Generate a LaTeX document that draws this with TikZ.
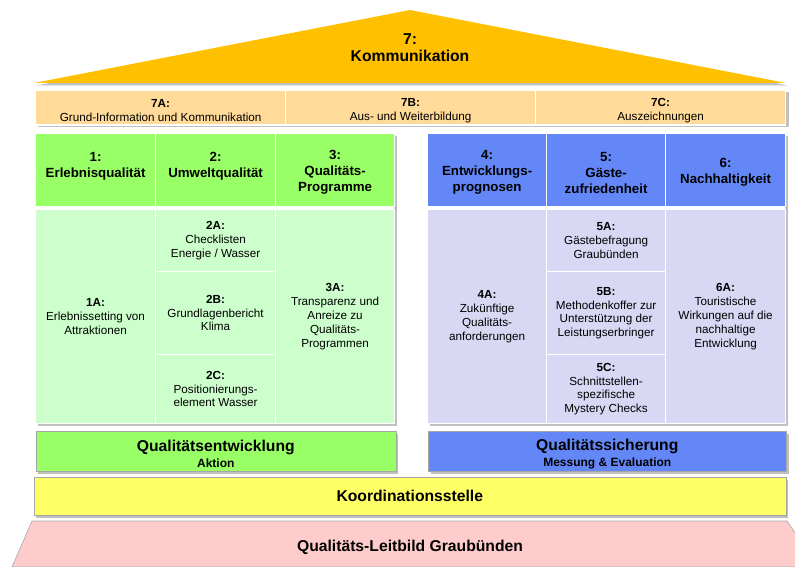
\documentclass[tikz,border=0pt]{standalone}
\usepackage{fontspec}
\setmainfont{Liberation Sans}
\usepackage{xcolor}
\usetikzlibrary{shadows}

\definecolor{rooforange}{HTML}{FFC000}
\definecolor{commrow}{HTML}{FFDA99}
\definecolor{greenhead}{HTML}{99FF66}
\definecolor{greenbody}{HTML}{CCFFCC}
\definecolor{bluehead}{HTML}{6487F8}
\definecolor{bluebody}{HTML}{D8D8F5}
\definecolor{coordyellow}{HTML}{FFFF66}
\definecolor{leitpink}{HTML}{FFCCCC}

\newcommand{\hdfont}{\fontsize{13.3}{16}\selectfont\bfseries}
\newcommand{\txfont}{\fontsize{11.7}{13.8}\selectfont}
\newcommand{\bgfont}{\fontsize{15.7}{17}\selectfont\bfseries}

\begin{document}
\begin{tikzpicture}[x=1pt, y=-1pt,
    shad/.style={drop shadow={shadow xshift=2.5pt, shadow yshift=-2.5pt, fill=black!55, opacity=.45}},
    cell/.style={draw=white, line width=1.2pt, inner sep=0pt, anchor=north west, align=center},
    headg/.style={cell, fill=greenhead, font=\hdfont},
    bodyg/.style={cell, fill=greenbody, font=\txfont},
    headb/.style={cell, fill=bluehead, font=\hdfont},
    bodyb/.style={cell, fill=bluebody, font=\txfont},
    commcell/.style={cell, fill=commrow, font=\txfont, minimum width=250pt, minimum height=35pt},
    barbox/.style={shad, draw=black!35, line width=.6pt, inner sep=0pt, anchor=north west, align=center, font=\bgfont}
]
\useasboundingbox (0,0) rectangle (795,567);

% roof
\path[fill=rooforange, shad] (34,83) -- (410,10) -- (786,83) -- cycle;
\node[font=\bgfont, align=center] (kom7) at (410,47.5) {7:\\Kommunikation};

% communication row
\node[shad, fill=white, inner sep=0pt, anchor=north west, minimum width=751pt, minimum height=35pt] (row7) at (35,89.5) {};
\node[commcell] (row7a) at (35,89.5)  {\rule{0pt}{14pt}\textbf{7A:}\\Grund-Information und Kommunikation};
\node[commcell] (row7b) at (285,89.5) {\rule{0pt}{14pt}\textbf{7B:}\\Aus- und Weiterbildung};
\node[commcell] (row7c) at (535,89.5) {\rule{0pt}{14pt}\textbf{7C:}\\Auszeichnungen};

% green block
\node[shad, fill=white, inner sep=0pt, anchor=north west, minimum width=359pt, minimum height=290pt] (greenblk) at (35,133) {};
\node[headg, minimum width=120pt, minimum height=73pt] (erleb)  at (35,133)  {\rule{0pt}{14pt}1:\\Erlebnisqualität\\\mbox{}};
\node[headg, minimum width=120pt, minimum height=73pt] (umwelt) at (155,133) {\rule{0pt}{14pt}2:\\Umweltqualität\\\mbox{}};
\node[headg, minimum width=119pt, minimum height=73pt] (progr)  at (275,133) {\rule{0pt}{14pt}3:\\Qualitäts-\\Programme};
\node[bodyg, minimum width=120pt, minimum height=214pt] (cell1a) at (35,209)  {\textbf{1A:}\\Erlebnissetting von\\Attraktionen};
\node[bodyg, minimum width=120pt, minimum height=62pt]  (cell2a) at (155,209) {\textbf{2A:}\\Checklisten\\Energie / Wasser};
\node[bodyg, minimum width=120pt, minimum height=83pt]  (cell2b) at (155,271) {\textbf{2B:}\\Grundlagenbericht\\Klima};
\node[bodyg, minimum width=120pt, minimum height=69pt]  (cell2c) at (155,354) {\textbf{2C:}\\Positionierungs-\\element Wasser};
\node[bodyg, minimum width=119pt, minimum height=214pt] (cell3a) at (275,209) {\textbf{3A:}\\Transparenz und\\Anreize zu\\Qualitäts-\\Programmen};

% blue block
\node[shad, fill=white, inner sep=0pt, anchor=north west, minimum width=358pt, minimum height=290pt] (blueblk) at (427,133) {};
\node[headb, minimum width=119pt, minimum height=73pt] (entw)   at (427,133) {\rule{0pt}{14pt}4:\\Entwicklungs-\\prognosen};
\node[headb, minimum width=119pt, minimum height=73pt] (gaeste) at (546,133) {\rule{0pt}{14pt}5:\\Gäste-\\zufriedenheit};
\node[headb, minimum width=120pt, minimum height=73pt] (nachh)  at (665,133) {\rule{0pt}{14pt}6:\\Nachhaltigkeit};
\node[bodyb, minimum width=119pt, minimum height=214pt] (cell4a) at (427,209) {\textbf{4A:}\\Zukünftige\\Qualitäts-\\anforderungen};
\node[bodyb, minimum width=119pt, minimum height=62pt]  (cell5a) at (546,209) {\textbf{5A:}\\Gästebefragung\\Graubünden};
\node[bodyb, minimum width=119pt, minimum height=83pt]  (cell5b) at (546,271) {\textbf{5B:}\\Methodenkoffer zur\\Unterstützung der\\Leistungserbringer};
\node[bodyb, minimum width=119pt, minimum height=69pt]  (cell5c) at (546,354) {\textbf{5C:}\\Schnittstellen-\\spezifische\\Mystery Checks};
\node[bodyb, minimum width=120pt, minimum height=214pt] (cell6a) at (665,209) {\textbf{6A:}\\Touristische\\Wirkungen auf die\\nachhaltige\\Entwicklung};

% bottom bars
\node[barbox, fill=greenhead, minimum width=360pt, minimum height=40pt] (qentw) at (35.5,431)
    {\rule{0pt}{17pt}Qualitätsentwicklung\\[-1pt]{\fontsize{12}{14}\selectfont Aktion}};
\node[barbox, fill=bluehead, minimum width=358pt, minimum height=40pt] (qsich) at (428,431)
    {\rule{0pt}{17pt}Qualitätssicherung\\[-1pt]{\fontsize{12}{14}\selectfont Messung \& Evaluation}};
\node[barbox, fill=coordyellow, minimum width=752pt, minimum height=38pt] (koord) at (33.5,477) {Koordinationsstelle};

% foundation
\path[fill=leitpink, draw=black!35, line width=.6pt] (32,521) -- (787,521) -- (818,567) -- (12,567) -- cycle;
\node[font=\bgfont] (leitbild) at (410,547) {Qualitäts-Leitbild Graubünden};
\end{tikzpicture}
\end{document}
